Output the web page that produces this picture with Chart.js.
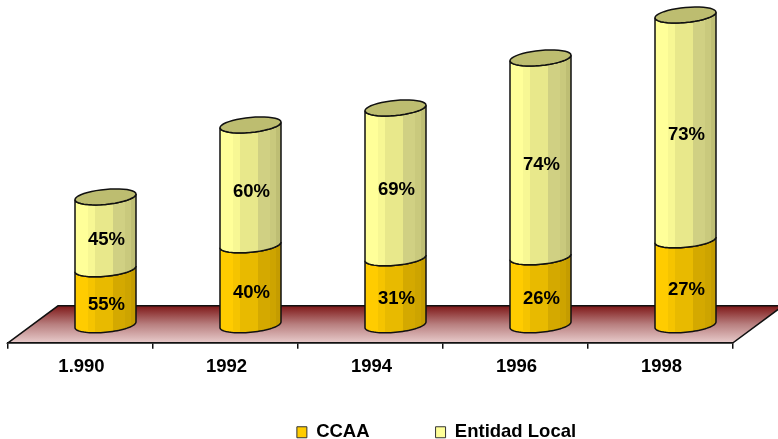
<!DOCTYPE html>
<html><head><meta charset="utf-8">
<style>html,body{margin:0;padding:0;background:#fff}canvas{display:block}</style>
<script src="https://cdn.jsdelivr.net/npm/chart.js@4"></script>
</head><body>
<canvas id="c" width="778" height="439"></canvas>
<script>
const categories = ['1.990','1992','1994','1996','1998'];
const ccaaValues = [56,80,67,68,85];
const localValues = [72,120,150,199,225];
const ccaaLabels = ['55%','40%','31%','26%','27%'];
const localLabels = ['45%','60%','69%','74%','73%'];
const FONT = '"Liberation Sans", Arial, sans-serif';
const DX = 25, RY = 7.5, TILT = 2.8;
const yellowBands = ['#FFFF99','#F7F794','#E8E88B','#E8E88B','#F0F0A0','#D0D083','#C9C97D','#BEBE74'];
const goldBands = ['#FFCC00','#F5C400','#E8BA00','#E8BA00','#EAC844','#D4A900','#CDA400','#C49C00'];
const bandStops = [0,0.21,0.32,0.6,0.62,0.63,0.82,0.91,1];

function bandGrad(ctx,l,r,bands){
  const g = ctx.createLinearGradient(l,0,r,0);
  bands.forEach((c,i)=>{ g.addColorStop(bandStops[i],c); g.addColorStop(bandStops[i+1],c); });
  return g;
}
function arc(ctx,cx,cy,rx,from,to,move){
  const n=40;
  for(let i=0;i<=n;i++){
    const t=from+(to-from)*i/n;
    const x=cx+rx*Math.cos(t), y=cy+RY*Math.sin(t)-TILT*Math.cos(t);
    if(i===0&&move) ctx.moveTo(x,y); else ctx.lineTo(x,y);
  }
}
function segment(ctx,el,bands){
  const cx=el.x+DX, rx=el.width/2;
  ctx.beginPath();
  arc(ctx,cx,el.y,rx,Math.PI,0,true);
  arc(ctx,cx,el.base,rx,0,Math.PI,false);
  ctx.closePath();
  ctx.fillStyle=bandGrad(ctx,cx-rx,cx+rx,bands);
  ctx.fill();
  ctx.lineWidth=1.5; ctx.strokeStyle='#111'; ctx.stroke();
}
const cylinders = {
  id:'cylinders',
  beforeDraw(chart){
    const {ctx,scales:{x,y}}=chart, b=y.bottom, back=b-37;
    ctx.save();
    const g=ctx.createLinearGradient(0,back,0,b);
    g.addColorStop(0,'#7E1717'); g.addColorStop(0.5,'#B87F7F'); g.addColorStop(1,'#E8CBCB');
    ctx.beginPath();
    ctx.moveTo(x.left,b); ctx.lineTo(x.left+50,back); ctx.lineTo(x.right+50,back); ctx.lineTo(x.right,b); ctx.closePath();
    ctx.fillStyle=g; ctx.fill();
    ctx.lineWidth=1.5; ctx.strokeStyle='#111'; ctx.stroke();
    ctx.restore();
  },
  beforeDatasetsDraw(chart){
    const ctx=chart.ctx, low=chart.getDatasetMeta(0).data, up=chart.getDatasetMeta(1).data;
    ctx.save();
    low.forEach((el,i)=>{
      const top=up[i], cx=el.x+DX, rx=el.width/2;
      segment(ctx,el,goldBands);
      segment(ctx,top,yellowBands);
      ctx.beginPath();
      arc(ctx,cx,top.y,rx,0,Math.PI*2,true);
      ctx.closePath();
      ctx.fillStyle='#BDBD70'; ctx.fill();
      ctx.lineWidth=1.5; ctx.strokeStyle='#111'; ctx.stroke();
      ctx.fillStyle='#000'; ctx.font='bold 18.5px '+FONT;
      ctx.textAlign='center'; ctx.textBaseline='middle';
      ctx.fillText(ccaaLabels[i],cx+1,(el.y+el.base)/2+8);
      ctx.fillText(localLabels[i],cx+1,(top.y+top.base)/2+7);
    });
    ctx.restore();
    return false;
  },
  beforeLayout(chart){
    const l=chart.legend;
    if(l && !l._patched){
      l._patched=true;
      const fit=l.fit;
      l.fit=function(){ fit.call(this); this.height=54; };
    }
  },
  afterLayout(chart){
    const l=chart.legend;
    l.top=357; l.left+=66; l.right+=66;
  }
};
new Chart(document.getElementById('c'),{
  type:'bar',
  data:{labels:categories,datasets:[
    {label:'CCAA',data:ccaaValues,backgroundColor:'#FFCC00',borderColor:'#333',borderWidth:1},
    {label:'Entidad Local',data:localValues,backgroundColor:'#FFFF99',borderColor:'#333',borderWidth:1}
  ]},
  options:{
    responsive:false,animation:false,devicePixelRatio:1,
    barThickness:61,
    layout:{padding:{left:8,right:45,top:5,bottom:0}},
    plugins:{
      tooltip:{enabled:false},
      legend:{position:'bottom',labels:{boxWidth:10,boxHeight:11,padding:66,color:'#000',font:{family:FONT,size:18.5,weight:'bold'}}}
    },
    scales:{
      x:{stacked:true,
        grid:{drawOnChartArea:false,drawTicks:true,tickLength:6,color:'#111',lineWidth:1.5},
        border:{color:'#111',width:1.5},
        ticks:{color:'#000',padding:7,labelOffset:1,maxRotation:0,font:{family:FONT,size:18.5,weight:'bold'}}},
      y:{stacked:true,display:false,min:-18,max:320}
    }
  },
  plugins:[cylinders]
});
</script>
</body></html>
